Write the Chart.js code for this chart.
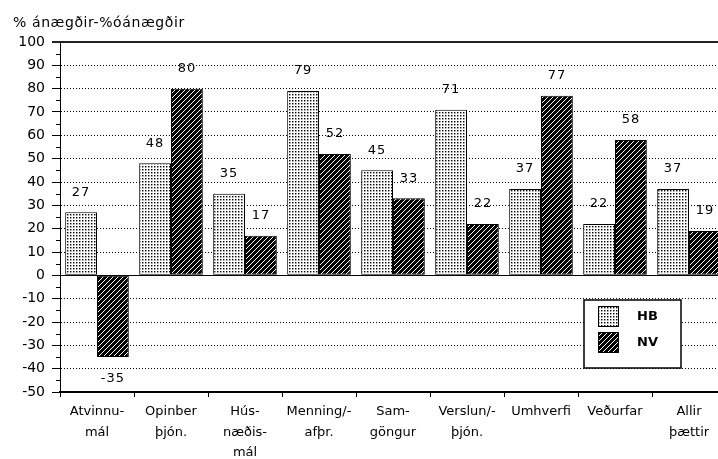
<!DOCTYPE html>
<html>
<head>
<meta charset="utf-8">
<script src="https://cdn.jsdelivr.net/npm/chart.js@4"></script>
<style>
  html, body { margin: 0; padding: 0; background: #fff; }
  #wrap { width: 718px; height: 459px; overflow: hidden; position: relative; }
  canvas { display: block; }
</style>
</head>
<body>
<div id="wrap"><canvas id="chart" width="730" height="459"></canvas></div>
<script>
// survey: % satisfied minus % dissatisfied, per topic
const categories = [
  ["Atvinnu-", "mál"], ["Opinber", "þjón."], ["Hús-", "næðis-", "mál"],
  ["Menning/-", "afþr."], ["Sam-", "göngur"], ["Verslun/-", "þjón."],
  "Umhverfi", "Veðurfar", ["Allir", "þættir"]
];
const seriesNames = ["HB", "NV"];
const hbValues = [27, 48, 35, 79, 45, 71, 37, 22, 37];
const nvValues = [-35, 80, 17, 52, 33, 22, 77, 58, 19];
const yMin = -50, yMax = 100, yStep = 10;
const minorTicks = [95, 85, 75, 65, 55, 45, 35, 25, 15, 5, -5, -15, -25, -35, -45];
const yTitle = "% ánægðir-%óánægðir";

const canvas = document.getElementById('chart');
const ctx = canvas.getContext('2d');

// fill patterns: dotted for HB, diagonal hatch for NV
function dotPattern() {
  const c = document.createElement('canvas');
  c.width = 3; c.height = 3;
  const g = c.getContext('2d');
  g.fillStyle = '#fff'; g.fillRect(0, 0, 3, 3);
  g.fillStyle = '#000'; g.fillRect(1, 1, 1, 1);
  g.fillStyle = '#999'; g.fillRect(2, 1, 1, 1); g.fillRect(1, 2, 1, 1);
  g.fillStyle = '#ccc'; g.fillRect(2, 2, 1, 1);
  return ctx.createPattern(c, 'repeat');
}
function hatchPattern() {
  const c = document.createElement('canvas');
  c.width = 5; c.height = 5;
  const g = c.getContext('2d');
  g.fillStyle = '#000'; g.fillRect(0, 0, 5, 5);
  g.fillStyle = '#fff';
  for (let i = 0; i < 5; i++) g.fillRect(i, 4 - i, 1, 1);
  return ctx.createPattern(c, 'repeat');
}
const fills = [dotPattern(), hatchPattern()];

const extras = {
  id: 'extras',
  beforeDatasetsDraw(chart) {
    const {ctx, chartArea, scales: {y}} = chart;
    ctx.save();
    ctx.strokeStyle = '#000';
    ctx.lineWidth = 1;
    // minor ticks on the value axis
    ctx.beginPath();
    for (const v of minorTicks) {
      const py = Math.round(y.getPixelForValue(v)) + 0.5;
      ctx.moveTo(chartArea.left - 4, py);
      ctx.lineTo(chartArea.left, py);
    }
    ctx.stroke();
    // top frame line
    ctx.strokeStyle = '#222';
    ctx.lineWidth = 2;
    ctx.beginPath();
    ctx.moveTo(chartArea.left - 8, chartArea.top);
    ctx.lineTo(chartArea.right, chartArea.top);
    ctx.stroke();
    ctx.restore();
  },
  afterDatasetsDraw(chart) {
    const {ctx, chartArea, scales: {y}} = chart;
    ctx.save();
    // zero line
    ctx.strokeStyle = '#000';
    ctx.lineWidth = 1;
    const zy = Math.round(y.getPixelForValue(0)) + 0.5;
    ctx.beginPath();
    ctx.moveTo(chartArea.left, zy);
    ctx.lineTo(chartArea.right, zy);
    ctx.stroke();

    // value labels
    ctx.fillStyle = '#000';
    ctx.font = '13px "DejaVu Sans"';
    ctx.letterSpacing = '1px';
    ctx.textAlign = 'center';
    ctx.textBaseline = 'middle';
    chart.data.datasets.forEach((ds, di) => {
      chart.getDatasetMeta(di).data.forEach((bar, i) => {
        const v = ds.data[i];
        const ly = v >= 0 ? bar.y - 20 : bar.y + 22;
        ctx.fillText(String(v), bar.x, ly);
      });
    });
    ctx.letterSpacing = '0px';

    // legend box
    const bx = 584, by = 300, bw = 97, bh = 68;
    ctx.fillStyle = '#fff';
    ctx.fillRect(bx, by, bw, bh);
    ctx.lineWidth = 1.5;
    ctx.strokeRect(bx, by, bw, bh);
    ctx.font = 'bold 13px "DejaVu Sans"';
    ctx.textAlign = 'left';
    chart.data.datasets.forEach((ds, di) => {
      const sy = by + 6 + di * 26;
      ctx.fillStyle = ds.backgroundColor;
      ctx.fillRect(bx + 14, sy, 21, 21);
      ctx.lineWidth = 1;
      ctx.strokeStyle = '#000';
      ctx.strokeRect(bx + 14.5, sy + 0.5, 20, 20);
      ctx.fillStyle = '#000';
      ctx.fillText(ds.label, bx + 53, sy + 11);
    });

    // axis title
    ctx.font = '14px "DejaVu Sans"';
    ctx.letterSpacing = '0.6px';
    ctx.fillText(yTitle, 13, 23);
    ctx.restore();
  }
};

new Chart(canvas, {
  type: 'bar',
  data: {
    labels: categories,
    datasets: [
      { label: seriesNames[0], data: hbValues, backgroundColor: fills[0] },
      { label: seriesNames[1], data: nvValues, backgroundColor: fills[1] }
    ]
  },
  options: {
    responsive: false,
    animation: false,
    devicePixelRatio: 1,
    layout: { padding: { top: 42, right: 4, left: 0, bottom: 0 } },
    datasets: {
      bar: {
        borderColor: '#000',
        borderWidth: 1,
        borderSkipped: false,
        categoryPercentage: 0.86,
        barPercentage: 1
      }
    },
    plugins: {
      legend: { display: false },
      title: { display: false },
      tooltip: { enabled: false }
    },
    scales: {
      x: {
        afterFit(scale) { scale.height = 67; },
        grid: {
          drawOnChartArea: false,
          offset: true,
          tickLength: 5,
          tickColor: '#000'
        },
        border: { color: '#000', width: 2 },
        ticks: {
          color: '#000',
          autoSkip: false,
          maxRotation: 0,
          padding: 4,
          font: { family: '"DejaVu Sans"', size: 13, lineHeight: 1.6 }
        }
      },
      y: {
        min: yMin,
        max: yMax,
        afterFit(scale) { scale.width = 60; },
        grid: {
          color: c => (c.tick && (c.tick.value === 0 || c.tick.value === yMax)) ? 'rgba(0,0,0,0)' : '#000',
          tickColor: '#000',
          tickLength: 8,
          tickBorderDash: []
        },
        border: { color: '#000', width: 1, dash: [1, 2] },
        ticks: {
          stepSize: yStep,
          color: '#000',
          padding: 7,
          font: { family: '"DejaVu Sans"', size: 14 }
        }
      }
    }
  },
  plugins: [extras]
});
</script>
</body>
</html>
